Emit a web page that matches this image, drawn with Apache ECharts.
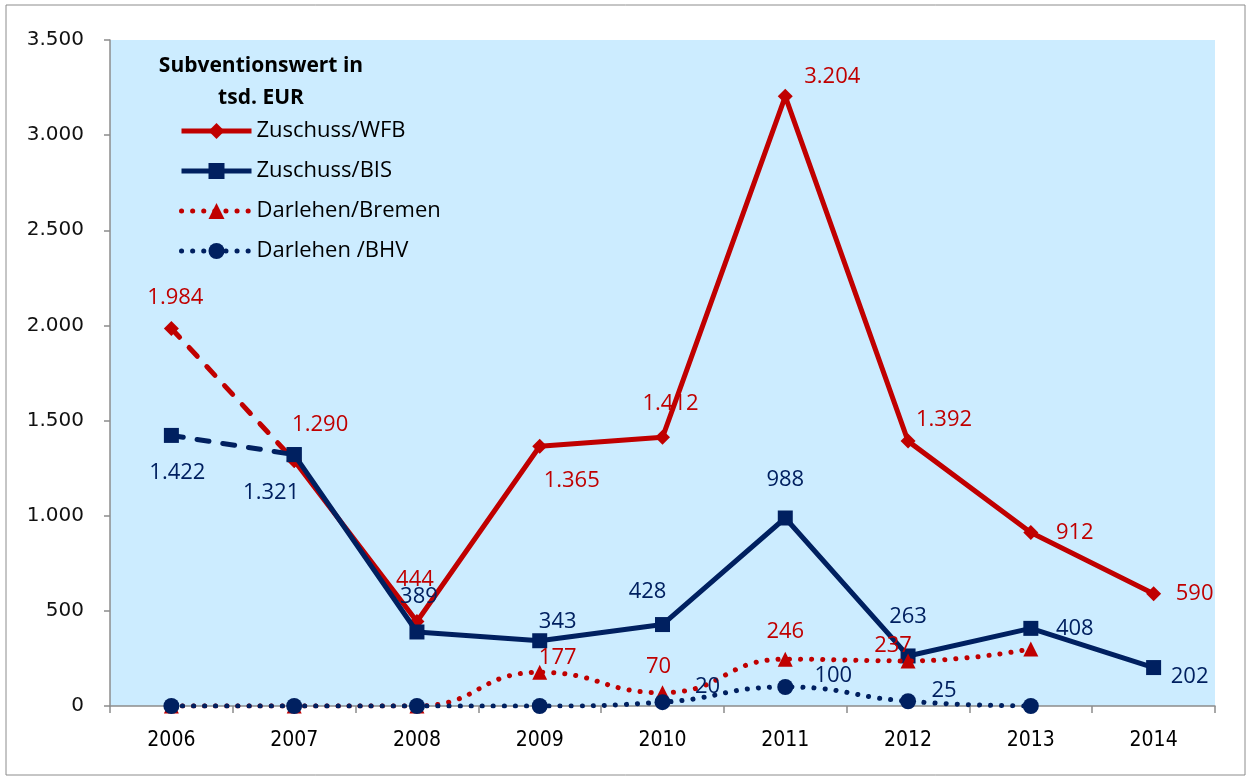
<!DOCTYPE html>
<html>
<head>
<meta charset="utf-8">
<script src="https://cdn.jsdelivr.net/npm/echarts@6/dist/echarts.min.js"></script>
<style>
  html, body { margin: 0; padding: 0; background: #fff; }
  #main { width: 1252px; height: 780px; }
</style>
</head>
<body>
<div id="main"></div>
<script>
var years = ['2006', '2007', '2008', '2009', '2010', '2011', '2012', '2013', '2014'];
var zuschussWFB = [1984, 1290, 444, 1365, 1412, 3204, 1392, 912, 590];
var zuschussBIS = [1422, 1321, 389, 343, 428, 988, 263, 408, 202];
var darlehenBremen = [0, 0, 0, 177, 70, 246, 237, 300, null];
var darlehenBHV = [0, 0, 0, 0, 20, 100, 25, 0, null];
var yTicks = { min: 0, max: 3500, step: 500 };

// label offsets relative to each point (px), null = no label
var offWFB = [[4, -31], [26, -36], [-2, -42], [32, 34], [8, -34], [47, -20], [36, -21], [44, 0], [41, 0]];
var offBIS = [[6, 37], [-23, 38], [2, -35], [18, -19], [-15, -33], [0, -38], [0, -39], [44, 0], [36, 9]];
var offBremen = [null, null, null, [18, -15], [-4, -26], [0, -27], [-15, -15], null, null];
var offBHV = [null, null, null, null, [45, -15], [48, -11], [36, -11], null, null];

var RED = '#C00000';
var NAVY = '#002060';
var FONT = 'Open Sans';

function fmt(v) {
  return String(v).replace(/\B(?=(\d{3})+(?!\d))/g, '.');
}

// points from..to of a series; labels only for from..labelTo
function build(values, offsets, from, to, labelTo) {
  return values.map(function (v, i) {
    if (i < from || i > to || v == null) return null;
    var o = offsets[i];
    return {
      value: v,
      label: { show: o != null && i <= labelTo, offset: o || [0, 0] }
    };
  });
}

var labelBase = {
  show: true,
  position: 'inside',
  fontFamily: FONT,
  fontSize: 22,
  formatter: function (p) { return fmt(p.value); }
};

var dashed = { type: [12, 14], cap: 'round', width: 5 };
var dotted = { type: [0.1, 11], cap: 'round', width: 5 };

var myChart = echarts.init(document.getElementById('main'));
var option = {
  animation: false,
  backgroundColor: '#fff',
  graphic: [{
    type: 'rect',
    shape: { x: 6, y: 5, width: 1239, height: 770 },
    style: { fill: 'none', stroke: '#8c8c8c', lineWidth: 1 },
    silent: true
  }],
  title: {
    text: 'Subventionswert in\ntsd. EUR',
    left: 256,
    top: 45,
    textAlign: 'center',
    textStyle: { fontFamily: FONT, fontWeight: 'bold', fontSize: 21, color: '#000', lineHeight: 32 }
  },
  legend: {
    orient: 'vertical',
    left: 174,
    top: 115,
    itemWidth: 70,
    itemHeight: 20,
    itemGap: 18,
    lineStyle: { width: 5 },
    data: ['Zuschuss/WFB', 'Zuschuss/BIS', 'Darlehen/Bremen', 'Darlehen /BHV'],
    textStyle: { fontFamily: FONT, fontSize: 22, color: '#000', padding: [0, 0, 0, 0] }
  },
  grid: {
    left: 110, right: 37, top: 40, bottom: 74,
    show: true, backgroundColor: '#CCECFF', borderWidth: 0
  },
  xAxis: {
    type: 'category',
    data: years,
    boundaryGap: true,
    axisLine: { lineStyle: { color: '#8c8c8c', width: 1.5 } },
    axisTick: { show: true, length: 7, lineStyle: { color: '#8c8c8c', width: 1.5 } },
    axisLabel: { margin: 24, fontFamily: 'DejaVu Sans Condensed, Liberation Sans', fontSize: 21, color: '#000' },
    splitLine: { show: false }
  },
  yAxis: {
    type: 'value',
    min: yTicks.min,
    max: yTicks.max,
    interval: yTicks.step,
    axisLine: { show: true, lineStyle: { color: '#8c8c8c', width: 1.5 } },
    axisTick: { show: true, length: 6, lineStyle: { color: '#8c8c8c', width: 1.5 } },
    axisLabel: { margin: 26, fontFamily: 'DejaVu Sans', fontSize: 20, color: '#111', formatter: fmt },
    splitLine: { show: false }
  },
  series: [
    {
      name: 'Zuschuss/WFB-dash', type: 'line',
      data: build(zuschussWFB, offWFB, 0, 1, 0),
      symbol: 'diamond', symbolSize: 15,
      itemStyle: { color: RED }, lineStyle: Object.assign({ color: RED }, dashed),
      label: Object.assign({ color: RED }, labelBase), z: 2
    },
    {
      name: 'Zuschuss/BIS-dash', type: 'line',
      data: build(zuschussBIS, offBIS, 0, 1, 0),
      symbol: 'rect', symbolSize: 15,
      itemStyle: { color: NAVY }, lineStyle: Object.assign({ color: NAVY }, dashed),
      label: Object.assign({ color: NAVY }, labelBase), z: 2
    },
    {
      name: 'Zuschuss/WFB', type: 'line',
      data: build(zuschussWFB, offWFB, 1, 8, 8),
      symbol: 'diamond', symbolSize: 15,
      itemStyle: { color: RED }, lineStyle: { color: RED, width: 5 },
      label: Object.assign({ color: RED }, labelBase), z: 3
    },
    {
      name: 'Zuschuss/BIS', type: 'line',
      data: build(zuschussBIS, offBIS, 1, 8, 8),
      symbol: 'rect', symbolSize: 15,
      itemStyle: { color: NAVY }, lineStyle: { color: NAVY, width: 5 },
      label: Object.assign({ color: NAVY }, labelBase), z: 4
    },
    {
      name: 'Darlehen/Bremen', type: 'line', smooth: true,
      data: build(darlehenBremen, offBremen, 0, 8, 8),
      symbol: 'triangle', symbolSize: 15,
      itemStyle: { color: RED }, lineStyle: Object.assign({ color: RED }, dotted),
      label: Object.assign({ color: RED }, labelBase), z: 5
    },
    {
      name: 'Darlehen /BHV', type: 'line', smooth: true,
      data: build(darlehenBHV, offBHV, 0, 8, 8),
      symbol: 'circle', symbolSize: 16,
      itemStyle: { color: NAVY }, lineStyle: Object.assign({ color: NAVY }, dotted),
      label: Object.assign({ color: NAVY }, labelBase), z: 6
    }
  ]
};
myChart.setOption(option);
</script>
</body>
</html>
